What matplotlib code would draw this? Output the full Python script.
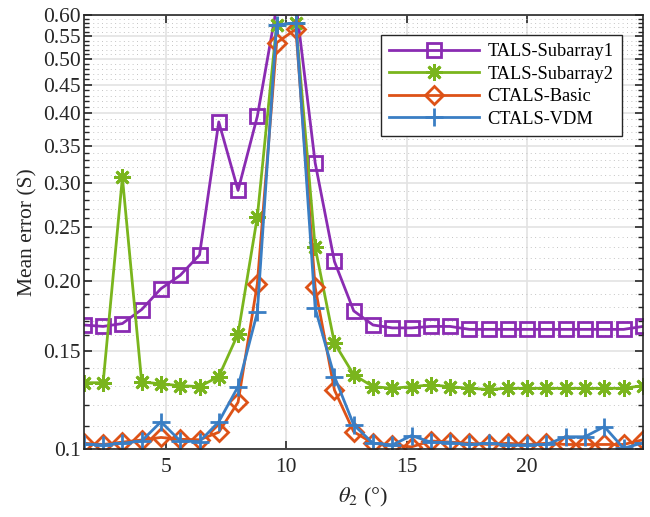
import numpy as np
import matplotlib
matplotlib.use("Agg")
import matplotlib.pyplot as plt
from matplotlib.ticker import FixedLocator, NullLocator

plt.rcParams["font.family"] = ["Liberation Serif", "DejaVu Serif"]
plt.rcParams["mathtext.fontset"] = "stix"

THETA = [1.6, 2.4, 3.2, 4.0, 4.8, 5.6, 6.4, 7.2, 8.0, 8.8,
         9.6, 10.4, 11.2, 12.0, 12.8, 13.6, 14.4, 15.2, 16.0, 16.8,
         17.6, 18.4, 19.2, 20.0, 20.8, 21.6, 22.4, 23.2, 24.0, 24.8]

SUB1 = [0.167, 0.166, 0.168, 0.178, 0.194, 0.205, 0.223, 0.386, 0.291, 0.395,
        0.62, 0.63, 0.326, 0.217, 0.177, 0.167, 0.165, 0.165, 0.166, 0.166,
        0.164, 0.164, 0.164, 0.164, 0.164, 0.164, 0.164, 0.164, 0.164, 0.166]
SUB2 = [0.1316, 0.1316, 0.307, 0.132, 0.131, 0.130, 0.1295, 0.135, 0.161, 0.261,
        0.576, 0.58, 0.230, 0.155, 0.136, 0.1295, 0.1286, 0.1295, 0.1304, 0.1295,
        0.1286, 0.128, 0.1286, 0.1286, 0.1286, 0.1286, 0.1286, 0.1286, 0.1286, 0.130]
BASIC = [0.1025, 0.102, 0.103, 0.1039, 0.105, 0.1042, 0.104, 0.1073, 0.1214, 0.198,
         0.535, 0.566, 0.195, 0.1277, 0.1075, 0.1025, 0.1018, 0.101, 0.1035, 0.103,
         0.1025, 0.102, 0.1025, 0.102, 0.1025, 0.102, 0.102, 0.102, 0.102, 0.104]
VDM = [0.1022, 0.1018, 0.1025, 0.1035, 0.112, 0.1035, 0.1032, 0.112, 0.1295, 0.176,
       0.576, 0.581, 0.179, 0.135, 0.1106, 0.1025, 0.1018, 0.1058, 0.103, 0.1028,
       0.102, 0.1025, 0.1018, 0.1018, 0.102, 0.1053, 0.1053, 0.1098, 0.1004, 0.1027]

LABELS = ["TALS-Subarray1", "TALS-Subarray2", "CTALS-Basic", "CTALS-VDM"]
COLORS = ["#8A2BB2", "#7AB51D", "#DD5217", "#3A7EC4"]

YTICKS = [0.1, 0.15, 0.2, 0.25, 0.3, 0.35, 0.4, 0.45, 0.5, 0.55, 0.6]
YTICK_LABELS = ["0.1", "0.15", "0.20", "0.25", "0.30", "0.35", "0.40",
                "0.45", "0.50", "0.55", "0.60"]
XTICKS = [5, 10, 15, 20]

fig = plt.figure(figsize=(6.5, 5.17), dpi=100)
ax = fig.add_axes([0.129, 0.131, 0.860, 0.840])

styles = [
    dict(marker="s", markersize=10, markerfacecolor="none"),
    dict(marker=(8, 2, 0), markersize=12),
    dict(marker="D", markersize=9, markerfacecolor="none"),
    dict(marker="+", markersize=13),
]
for y, lab, col, st in zip([SUB1, SUB2, BASIC, VDM], LABELS, COLORS, styles):
    ax.plot(THETA, y, color=col, linewidth=2.0, markeredgewidth=2.0,
            markeredgecolor=col, label=lab, **st)

ax.set_yscale("log")
ax.set_xlim(1.6, 24.8)
ax.set_ylim(0.1, 0.6)

ax.yaxis.set_major_locator(FixedLocator(YTICKS))
ax.set_yticklabels(YTICK_LABELS)
minor = [v / 100 for v in range(11, 60) if v % 5 != 0]
ax.yaxis.set_minor_locator(FixedLocator(minor))
ax.yaxis.set_minor_formatter(plt.NullFormatter())
ax.set_xticks(XTICKS)
ax.xaxis.set_minor_locator(NullLocator())

ax.grid(which="major", color="#e3e3e3", linewidth=1.2, linestyle="-")
ax.grid(which="minor", axis="y", color="#c4c4c4", linewidth=0.7,
        linestyle=(0, (1, 3.5)))
ax.set_axisbelow(True)

ax.tick_params(which="both", direction="in", top=True, right=True,
               labelsize=15.5, color="#262626", labelcolor="#262626")
ax.tick_params(which="major", length=6, width=1.2)
ax.tick_params(which="minor", length=3.5, width=1.0)
ax.tick_params(axis="x", which="major", pad=6)
ax.tick_params(axis="y", which="major", pad=2)
for s in ax.spines.values():
    s.set_color("#262626")
    s.set_linewidth(1.2)

ax.set_ylabel("Mean error (S)", fontsize=15.5, color="#262626", labelpad=4)
ax.set_xlabel(r"$\theta_2$ (°)", fontsize=16, color="#262626", labelpad=7)

leg = ax.legend(loc="upper right", bbox_to_anchor=(0.962, 0.954),
                borderaxespad=0, fontsize=13.2, handlelength=4.9,
                borderpad=0.45, labelspacing=0.3, handletextpad=0.45,
                fancybox=False, framealpha=1.0, edgecolor="#262626")
leg.get_frame().set_linewidth(1.0)

fig.savefig("out.png", dpi=100)
